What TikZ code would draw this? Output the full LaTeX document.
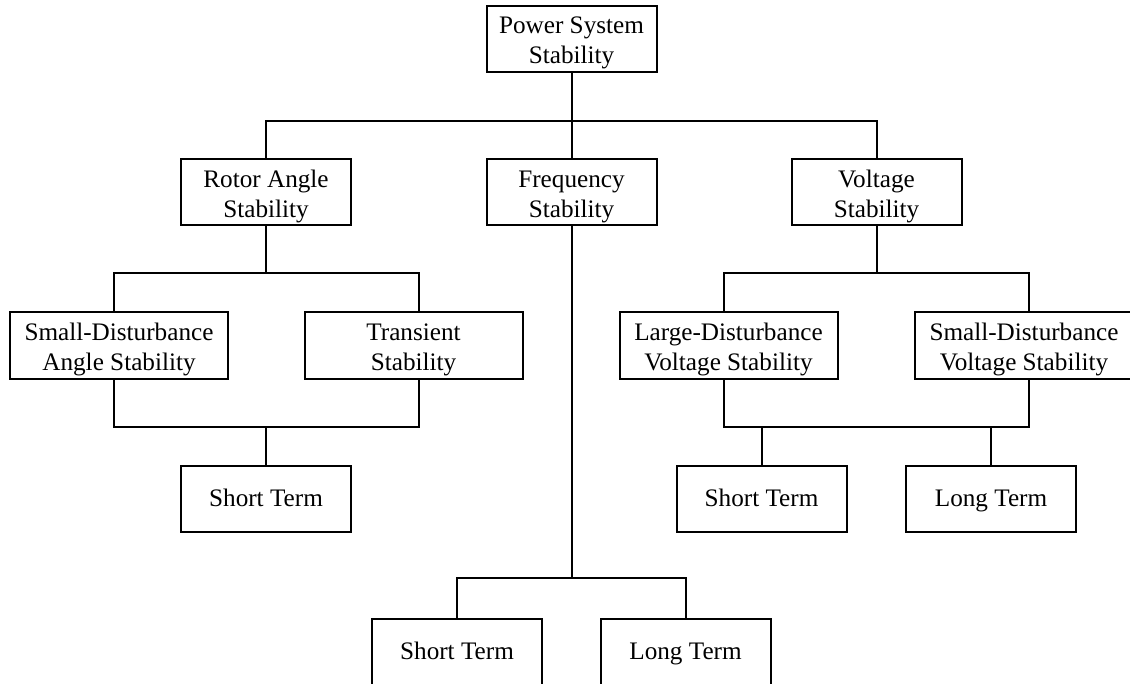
\documentclass[tikz,border=0pt]{standalone}
\usepackage{fontspec}
\setmainfont{Liberation Serif}
\newcommand{\tstrut}{\rule{0pt}{12.5pt}}
\newcommand{\sstrut}{\rule{0pt}{10.5pt}\vphantom{g}}
\begin{document}
\begin{tikzpicture}[x=0.5pt,y=-0.5pt,
  box/.style={draw, line width=1pt, align=center, inner sep=0pt,
    font=\fontsize{12.6}{15}\selectfont, minimum height=33pt},
  bw/.style={box, minimum width=85pt},
  ww/.style={box, minimum width=109pt},
  wire/.style={line width=1pt}]
\useasboundingbox (0,0) rectangle (1130,684);
\node[bw] (ps) at (571.5,39) {\tstrut Power System\\Stability};
\node[bw] (ra) at (266,192.5) {\tstrut Rotor Angle\\Stability};
\node[bw] (fs) at (571.5,192.5) {\tstrut Frequency\\Stability};
\node[bw] (vs) at (876.5,192.5) {\tstrut Voltage\\Stability};
\node[ww] (sda) at (119,345.5) {\tstrut Small-Disturbance\\Angle Stability};
\node[ww] (tr) at (413.5,345.5) {\tstrut Transient\\Stability};
\node[ww] (ldv) at (728.5,345.5) {\tstrut Large-Disturbance\\Voltage Stability};
\node[ww] (sdv) at (1024,345.5) {\tstrut Small-Disturbance\\Voltage Stability};
\node[bw] (st1) at (266,498.5) {\sstrut Short Term};
\node[bw] (st2) at (761.5,498.5) {\sstrut Short Term};
\node[bw] (lt2) at (991,498.5) {\sstrut Long Term};
\node[bw] (st3) at (457,651.5) {\sstrut Short Term};
\node[bw] (lt3) at (685.5,651.5) {\sstrut Long Term};
% top level
\coordinate (j1) at (571.5,121);
\draw[wire] (ps.south) -- (j1);
\draw[wire] (ra.north) |- (j1) -| (vs.north);
\draw[wire] (j1) -- (fs.north);
% rotor angle branch
\coordinate (j2) at (266,273);
\draw[wire] (ra.south) -- (j2);
\draw[wire] ([xshift=-2.5pt]sda.north) |- (j2) -| ([xshift=2.5pt]tr.north);
\coordinate (j3) at (266,427);
\draw[wire] ([xshift=-2.5pt]sda.south) |- (j3) -| ([xshift=2.5pt]tr.south);
\draw[wire] (j3) -- (st1.north);
% voltage branch
\coordinate (j4) at (876.5,273);
\draw[wire] (vs.south) -- (j4);
\draw[wire] ([xshift=-2.5pt]ldv.north) |- (j4) -| ([xshift=2.5pt]sdv.north);
\coordinate (j5) at (876.5,427);
\draw[wire] ([xshift=-2.5pt]ldv.south) |- (j5) -| ([xshift=2.5pt]sdv.south);
\draw[wire] (st2.north) -- (st2.north |- j5);
\draw[wire] (lt2.north) -- (lt2.north |- j5);
% frequency branch
\coordinate (j6) at (571.5,578);
\draw[wire] (fs.south) -- (j6);
\draw[wire] (st3.north) |- (j6) -| (lt3.north);
\end{tikzpicture}
\end{document}
